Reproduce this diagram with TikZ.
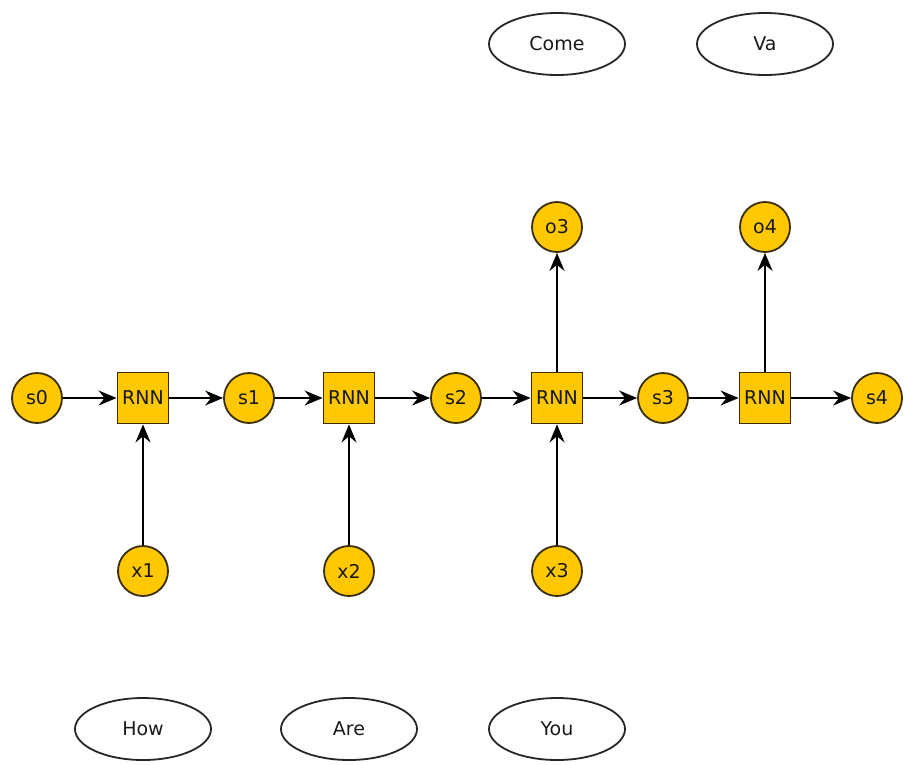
\documentclass[tikz,border=0pt]{standalone}
\usepackage{fontspec}
\setmainfont{DejaVu Sans}
\usetikzlibrary{arrows.meta,shapes.geometric}
\definecolor{nodeyel}{HTML}{FFC800}
\definecolor{nodeedge}{HTML}{3A2E00}
\begin{document}
\begin{tikzpicture}[x=1pt,y=-1pt,
  every node/.style={font=\fontsize{19}{22}\selectfont, text=black!90},
  state/.style={circle, fill=nodeyel, draw=nodeedge, line width=1.8pt, minimum size=50pt, inner sep=0pt},
  cell/.style={rectangle, fill=nodeyel, draw=nodeedge, line width=1.8pt, minimum size=51pt, inner sep=0pt},
  word/.style={ellipse, draw=black!85, line width=1.8pt, minimum width=136pt, minimum height=62pt, inner sep=0pt},
  link/.style={draw=black, line width=1.8pt, -{Stealth[length=18pt,width=15pt,inset=6pt]}}]
\useasboundingbox (0,0) rectangle (904,764);
% states
\node[state] (s0) at (37,398) {s0};
\node[state] (s1) at (249,398) {s1};
\node[state] (s2) at (456,398) {s2};
\node[state] (s3) at (663,398) {s3};
\node[state] (s4) at (877,398) {s4};
% cells
\node[cell] (r1) at (143,398) {RNN};
\node[cell] (r2) at (349,398) {RNN};
\node[cell] (r3) at (557,398) {RNN};
\node[cell] (r4) at (765,398) {RNN};
% inputs
\node[state] (x1) at (143,571) {x1};
\node[state] (x2) at (349,571) {x2};
\node[state] (x3) at (557,571) {x3};
% outputs
\node[state] (o3) at (557,227) {o3};
\node[state] (o4) at (765,227) {o4};
% words
\node[word] (come) at (557,44) {Come};
\node[word] (va) at (765,44) {Va};
\node[word] (how) at (143,729) {How};
\node[word] (are) at (349,729) {Are};
\node[word] (you) at (557,729) {You};
% connectors
\draw[link] (s0) -- (r1);
\draw[link] (r1) -- (s1);
\draw[link] (s1) -- (r2);
\draw[link] (r2) -- (s2);
\draw[link] (s2) -- (r3);
\draw[link] (r3) -- (s3);
\draw[link] (s3) -- (r4);
\draw[link] (r4) -- (s4);
\draw[link] (x1) -- (r1);
\draw[link] (x2) -- (r2);
\draw[link] (x3) -- (r3);
\draw[link] (r3) -- (o3);
\draw[link] (r4) -- (o4);
\end{tikzpicture}
\end{document}
